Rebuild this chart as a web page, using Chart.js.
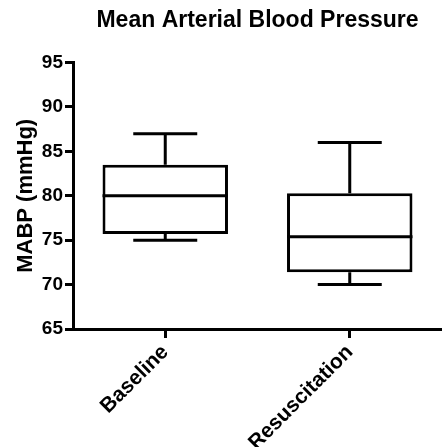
<!DOCTYPE html>
<html>
<head>
<meta charset="utf-8">
<title>Mean Arterial Blood Pressure</title>
<script src="https://cdn.jsdelivr.net/npm/chart.js@4/dist/chart.umd.min.js"></script>
<style>
  html, body { margin: 0; padding: 0; background: #fff; }
  canvas { display: block; }
</style>
</head>
<body>
<canvas id="bpChart" width="442" height="447"></canvas>
<script>
// box plot summary per group (mmHg)
const categories = ['Baseline', 'Resuscitation'];
const minValues = [75, 70];
const q1Values = [75.7, 71.4];
const medianValues = [80, 75.4];
const q3Values = [83.5, 80.3];
const maxValues = [87, 86];
const yTickMin = 65;
const yTickMax = 95;
const yTickStep = 5;

const FONT = '"Liberation Sans", Arial, Helvetica, sans-serif';

// whiskers, caps and median line drawn on top of the floating bars
const boxWhiskers = {
    id: 'boxWhiskers',
    afterDatasetsDraw(chart) {
        const ctx = chart.ctx;
        const y = chart.scales.y;
        const meta = chart.getDatasetMeta(0);
        ctx.save();
        ctx.strokeStyle = '#000';
        ctx.lineWidth = 3;
        ctx.lineCap = 'butt';
        meta.data.forEach((bar, i) => {
            const cx = bar.x;
            const half = bar.width / 2;
            const capHalf = half * 0.51;
            const yMin = y.getPixelForValue(minValues[i]);
            const yQ1 = y.getPixelForValue(q1Values[i]);
            const yMed = y.getPixelForValue(medianValues[i]);
            const yQ3 = y.getPixelForValue(q3Values[i]);
            const yMax = y.getPixelForValue(maxValues[i]);
            ctx.beginPath();
            // upper whisker + cap
            ctx.moveTo(cx, yQ3);
            ctx.lineTo(cx, yMax);
            ctx.moveTo(cx - capHalf, yMax);
            ctx.lineTo(cx + capHalf, yMax);
            // lower whisker + cap
            ctx.moveTo(cx, yQ1);
            ctx.lineTo(cx, yMin);
            ctx.moveTo(cx - capHalf, yMin);
            ctx.lineTo(cx + capHalf, yMin);
            // median
            ctx.moveTo(cx - half, yMed);
            ctx.lineTo(cx + half, yMed);
            ctx.stroke();
        });
        ctx.restore();
    }
};

const ctx = document.getElementById('bpChart').getContext('2d');
new Chart(ctx, {
    type: 'bar',
    data: {
        labels: categories,
        datasets: [{
            label: 'MABP',
            data: q1Values.map((q1, i) => [q1, q3Values[i]]),
            backgroundColor: '#fff',
            borderColor: '#000',
            borderWidth: 3,
            borderSkipped: false,
            barPercentage: 0.68,
            categoryPercentage: 1.0
        }]
    },
    options: {
        responsive: false,
        animation: false,
        layout: { padding: 0 },
        plugins: {
            legend: { display: false },
            tooltip: { enabled: false },
            title: {
                display: true,
                text: 'Mean Arterial Blood Pressure',
                fullSize: false,
                color: '#000',
                font: { family: FONT, size: 23, weight: 'bold' },
                padding: { top: 7, bottom: 28 }
            }
        },
        scales: {
            x: {
                type: 'category',
                offset: true,
                grid: {
                    offset: false,
                    drawOnChartArea: false,
                    drawTicks: true,
                    tickLength: 9,
                    tickWidth: 3,
                    tickColor: '#000'
                },
                border: { color: '#000', width: 3 },
                ticks: {
                    color: '#000',
                    font: { family: FONT, size: 21, weight: 'bold' },
                    minRotation: 45,
                    maxRotation: 45,
                    padding: 2
                },
                afterFit(scale) { scale.height = 118; }
            },
            y: {
                min: yTickMin,
                max: yTickMax,
                grid: {
                    drawOnChartArea: false,
                    drawTicks: true,
                    tickLength: 8,
                    tickWidth: 3,
                    tickColor: '#000'
                },
                border: { color: '#000', width: 3 },
                ticks: {
                    stepSize: yTickStep,
                    color: '#000',
                    font: { family: FONT, size: 19, weight: 'bold' },
                    padding: 2
                },
                title: {
                    display: true,
                    text: 'MABP (mmHg)',
                    color: '#000',
                    font: { family: FONT, size: 22, weight: 'bold' },
                    padding: { top: 13, bottom: 0 }
                },
                afterFit(scale) { scale.width = 73; }
            }
        }
    },
    plugins: [boxWhiskers]
});
</script>
</body>
</html>
